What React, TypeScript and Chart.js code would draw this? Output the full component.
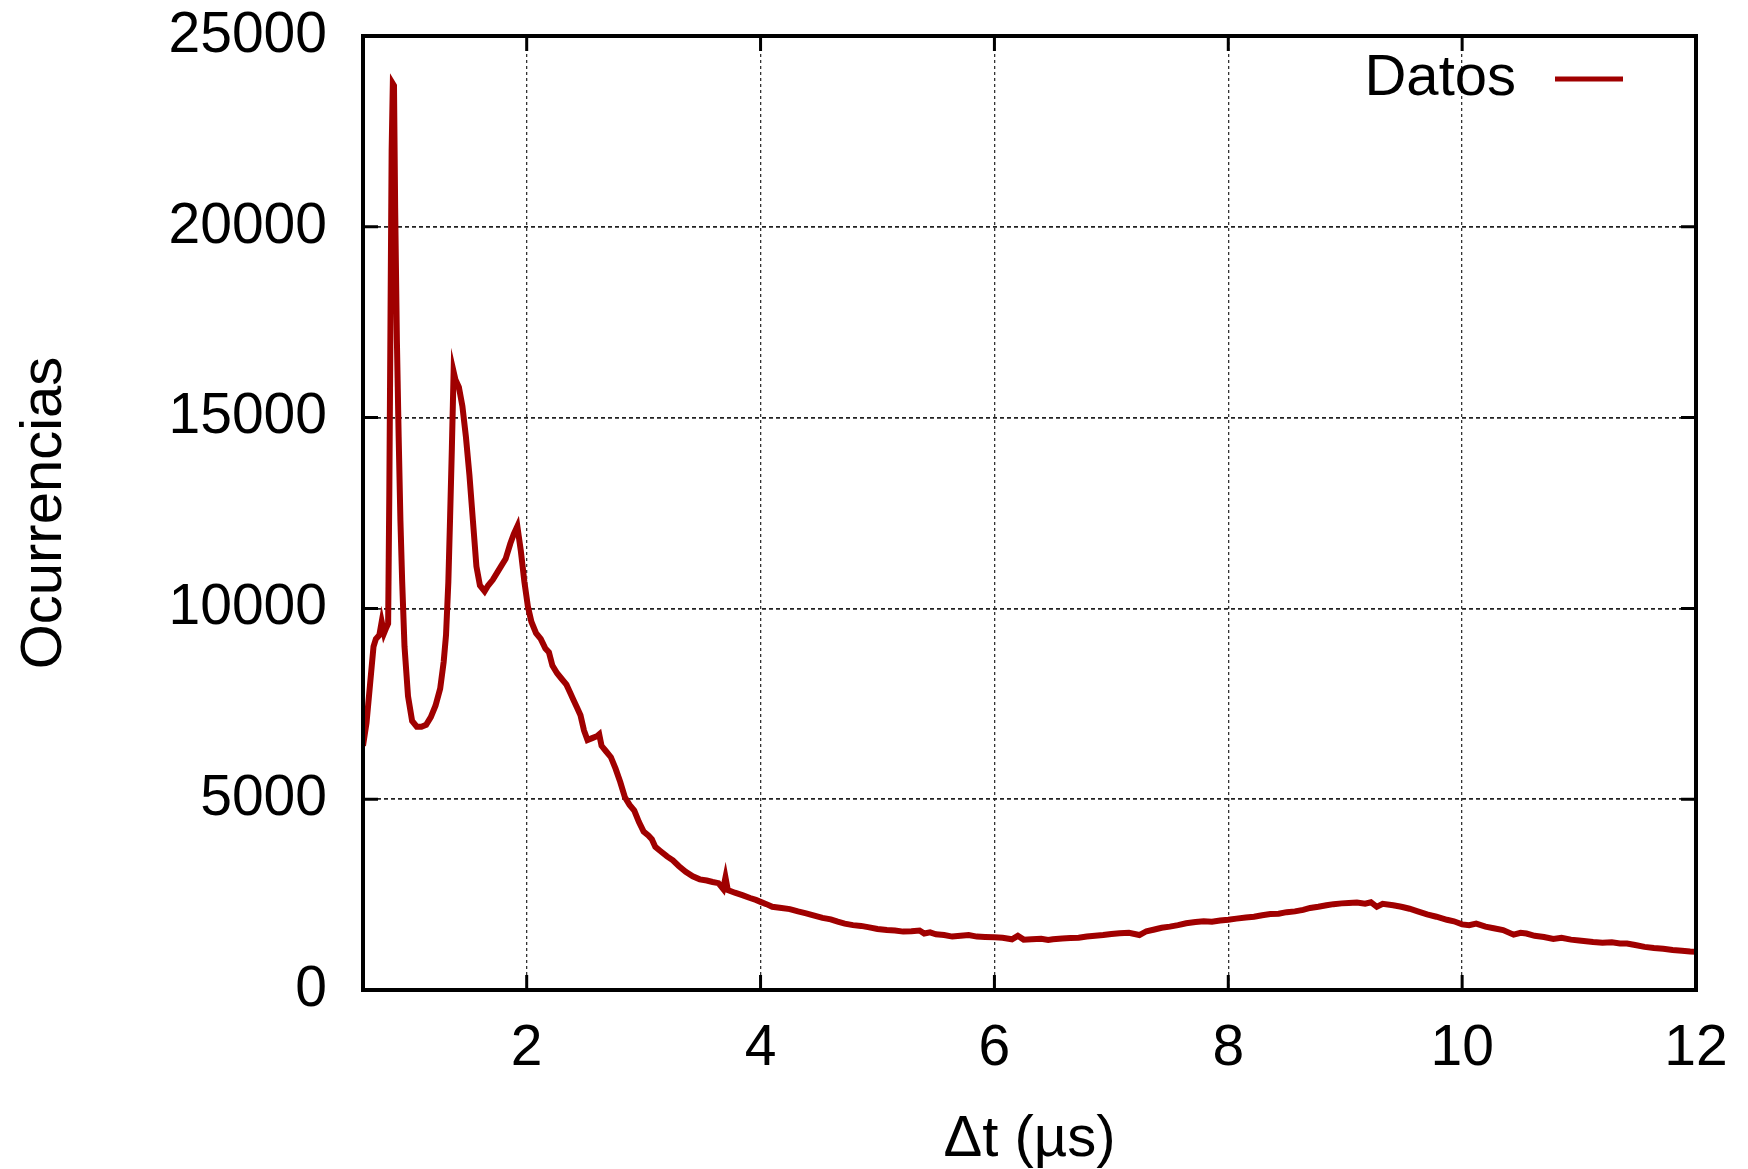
import React, { useEffect, useRef } from 'react';
import { Chart, registerables } from 'chart.js';

Chart.register(...registerables);

// ---- data ----
const dtValues = [
  0.6, 0.63, 0.66, 0.69, 0.71, 0.74, 0.76, 0.78, 0.8, 0.815, 0.825, 0.835, 0.845, 0.855, 0.865, 0.875,
  0.89, 0.905, 0.92, 0.935, 0.955, 0.985, 1.02, 1.06, 1.1, 1.14, 1.18, 1.22, 1.26, 1.29, 1.31, 1.33,
  1.345, 1.36, 1.375, 1.39, 1.42, 1.45, 1.48, 1.51, 1.54, 1.57, 1.6, 1.64, 1.67, 1.71, 1.75, 1.78,
  1.82, 1.86, 1.89, 1.92, 1.95, 1.98, 2.01, 2.04, 2.08, 2.12, 2.16, 2.19, 2.22, 2.26, 2.3, 2.34,
  2.37, 2.4, 2.43, 2.46, 2.49, 2.52, 2.56, 2.6, 2.62, 2.64, 2.68, 2.72, 2.76, 2.8, 2.84, 2.88,
  2.92, 2.96, 3.0, 3.04, 3.07, 3.1, 3.14, 3.2, 3.25, 3.3, 3.36, 3.42, 3.48, 3.54, 3.59, 3.64,
  3.68, 3.7, 3.72, 3.78, 3.85, 3.91, 3.96, 4.0, 4.05, 4.1, 4.18, 4.25, 4.32, 4.39, 4.46, 4.53,
  4.6, 4.66, 4.72, 4.79, 4.86, 4.93, 5.0, 5.08, 5.15, 5.22, 5.29, 5.36, 5.4, 5.45, 5.5, 5.57,
  5.64, 5.71, 5.78, 5.85, 5.92, 6.0, 6.07, 6.15, 6.2, 6.25, 6.32, 6.4, 6.46, 6.5, 6.58, 6.65,
  6.72, 6.79, 6.86, 6.93, 7.0, 7.07, 7.15, 7.24, 7.3, 7.36, 7.43, 7.5, 7.57, 7.64, 7.72, 7.79,
  7.86, 7.93, 8.0, 8.07, 8.15, 8.22, 8.29, 8.36, 8.43, 8.5, 8.57, 8.64, 8.7, 8.77, 8.84, 8.9,
  8.97, 9.03, 9.1, 9.17, 9.22, 9.27, 9.32, 9.41, 9.48, 9.55, 9.62, 9.7, 9.78, 9.87, 9.93, 10.0,
  10.06, 10.12, 10.2, 10.27, 10.35, 10.44, 10.5, 10.55, 10.62, 10.7, 10.78, 10.85, 10.93, 11.0, 11.06, 11.12,
  11.2, 11.28, 11.35, 11.41, 11.48, 11.56, 11.64, 11.72, 11.8, 11.88, 11.95, 12.0,
];

const occurrences = [
  6400, 7000, 8000, 9000, 9200, 9300, 9650, 9350, 9500, 9600, 13000, 17500, 22000, 23750, 23700, 20500,
  17000, 14500, 12300, 10700, 9000, 7700, 7050, 6900, 6900, 6950, 7150, 7450, 7900, 8600, 9300, 10700,
  12400, 14200, 16200, 16000, 15800, 15300, 14500, 13500, 12300, 11100, 10600, 10450, 10600, 10750, 10950, 11100,
  11300, 11700, 11950, 12150, 11500, 10700, 10050, 9650, 9350, 9200, 8950, 8850, 8500, 8300, 8150, 8000,
  7800, 7600, 7400, 7200, 6800, 6550, 6600, 6650, 6700, 6400, 6250, 6100, 5800, 5450, 5050, 4850,
  4700, 4400, 4150, 4050, 3950, 3750, 3650, 3500, 3400, 3250, 3100, 2980, 2900, 2870, 2830, 2800,
  2650, 2950, 2620, 2550, 2480, 2410, 2360, 2310, 2250, 2180, 2150, 2120, 2060, 2010, 1950, 1890,
  1850, 1790, 1740, 1700, 1680, 1640, 1600, 1570, 1560, 1530, 1540, 1560, 1480, 1510, 1460, 1440,
  1400, 1420, 1440, 1400, 1390, 1380, 1370, 1330, 1420, 1320, 1330, 1340, 1310, 1330, 1350, 1360,
  1370, 1400, 1420, 1440, 1470, 1490, 1500, 1440, 1540, 1580, 1630, 1660, 1700, 1750, 1780, 1800,
  1790, 1820, 1840, 1870, 1900, 1920, 1960, 1990, 2000, 2040, 2060, 2100, 2150, 2180, 2220, 2250,
  2270, 2280, 2290, 2260, 2300, 2180, 2260, 2220, 2180, 2130, 2060, 1980, 1920, 1840, 1800, 1720,
  1700, 1740, 1660, 1620, 1570, 1450, 1500, 1480, 1420, 1390, 1340, 1370, 1320, 1300, 1280, 1260,
  1240, 1250, 1220, 1220, 1180, 1130, 1100, 1080, 1050, 1030, 1010, 1000,
];

const xTickValues = [2, 4, 6, 8, 10, 12];
const yTickValues = [0, 5000, 10000, 15000, 20000, 25000];
const seriesLabel = 'Datos';
const xTitle = 'Δt (µs)';
const yTitle = 'Ocurrencias';

const LINE_COLOR = '#a00000';
const FONT = '"Liberation Sans", Arial, Helvetica, sans-serif';

const framePlugin = {
  id: 'gnuplotFrame',
  afterDatasetsDraw(chart: any) {
    const { ctx, chartArea } = chart;
    const { left, right, top, bottom } = chartArea;
    const xs = chart.scales.x;
    const ys = chart.scales.y;
    ctx.save();
    // inward tick marks
    ctx.strokeStyle = '#000';
    ctx.lineWidth = 3;
    ctx.setLineDash([]);
    const tl = 15;
    ctx.beginPath();
    xs.ticks.forEach((t: any) => {
      const px = xs.getPixelForValue(t.value);
      ctx.moveTo(px, bottom);
      ctx.lineTo(px, bottom - tl);
      ctx.moveTo(px, top);
      ctx.lineTo(px, top + tl);
    });
    ys.ticks.forEach((t: any) => {
      const py = ys.getPixelForValue(t.value);
      ctx.moveTo(left, py);
      ctx.lineTo(left + tl, py);
      ctx.moveTo(right, py);
      ctx.lineTo(right - tl, py);
    });
    ctx.stroke();
    // frame
    ctx.lineWidth = 4;
    ctx.strokeRect(left, top, right - left, bottom - top);

    // legend (text then line sample, gnuplot style)
    const ds = chart.data.datasets[0];
    const ly = top + 43;
    ctx.font = `58px ${FONT}`;
    ctx.fillStyle = '#000';
    ctx.textAlign = 'right';
    ctx.textBaseline = 'middle';
    ctx.fillText(ds.label, right - 180, ly);
    ctx.strokeStyle = ds.borderColor;
    ctx.lineWidth = 5;
    ctx.beginPath();
    ctx.moveTo(right - 141, ly);
    ctx.lineTo(right - 73, ly);
    ctx.stroke();
    ctx.restore();
  },
};

export default function App() {
  const canvasRef = useRef<HTMLCanvasElement | null>(null);

  useEffect(() => {
    const canvas = canvasRef.current;
    if (!canvas) return;
    const points = dtValues.map((x, i) => ({ x, y: occurrences[i] }));
    const chart = new Chart(canvas, {
      type: 'line',
      data: {
        datasets: [
          {
            label: seriesLabel,
            data: points,
            borderColor: LINE_COLOR,
            backgroundColor: LINE_COLOR,
            borderWidth: 6,
            pointRadius: 0,
            tension: 0,
            fill: false,
          },
        ],
      },
      options: {
        animation: false,
        responsive: false,
        devicePixelRatio: 1,
        layout: { padding: { top: 36, right: 52, left: 0, bottom: 0 } },
        plugins: {
          legend: { display: false },
          tooltip: { enabled: false },
          title: { display: false },
        },
        scales: {
          x: {
            type: 'linear',
            min: 0.6,
            max: 12,
            afterBuildTicks: (scale: any) => {
              scale.ticks = xTickValues.map((v) => ({ value: v }));
            },
            afterFit: (scale: any) => {
              scale.height = 179;
              scale.paddingLeft = 0;
              scale.paddingRight = 0;
            },
            ticks: {
              autoSkip: false,
              maxRotation: 0,
              minRotation: 0,
              padding: 25,
              color: '#000',
              font: { family: FONT, size: 57 },
              callback: (v: any) => String(v),
            },
            grid: {
              color: '#333',
              lineWidth: 1.3,
              drawTicks: false,
            },
            border: { display: false, dash: [3, 3] },
            title: {
              display: true,
              text: xTitle,
              color: '#000',
              font: { family: FONT, size: 58, lineHeight: 1.0 },
              padding: { top: 0, bottom: 0 },
            },
          },
          y: {
            type: 'linear',
            min: 0,
            max: 25000,
            afterBuildTicks: (scale: any) => {
              scale.ticks = yTickValues.map((v) => ({ value: v }));
            },
            afterFit: (scale: any) => {
              scale.width = 363;
              scale.paddingTop = 0;
              scale.paddingBottom = 0;
            },
            ticks: {
              padding: 36,
              color: '#000',
              font: { family: FONT, size: 57 },
              callback: (v: any) => String(v),
            },
            grid: {
              color: '#222',
              lineWidth: 1.8,
              drawTicks: false,
            },
            border: { display: false, dash: [4, 3] },
            title: {
              display: true,
              text: yTitle,
              color: '#000',
              font: { family: FONT, size: 58 },
              padding: { top: 10, bottom: 0 },
            },
          },
        },
      },
      plugins: [framePlugin],
    });
    return () => chart.destroy();
  }, []);

  return (
    <div style={{ position: 'absolute', left: 0, top: 0, width: 1748, height: 1169, background: '#fff' }}>
      <canvas ref={canvasRef} width={1748} height={1169} />
    </div>
  );
}
